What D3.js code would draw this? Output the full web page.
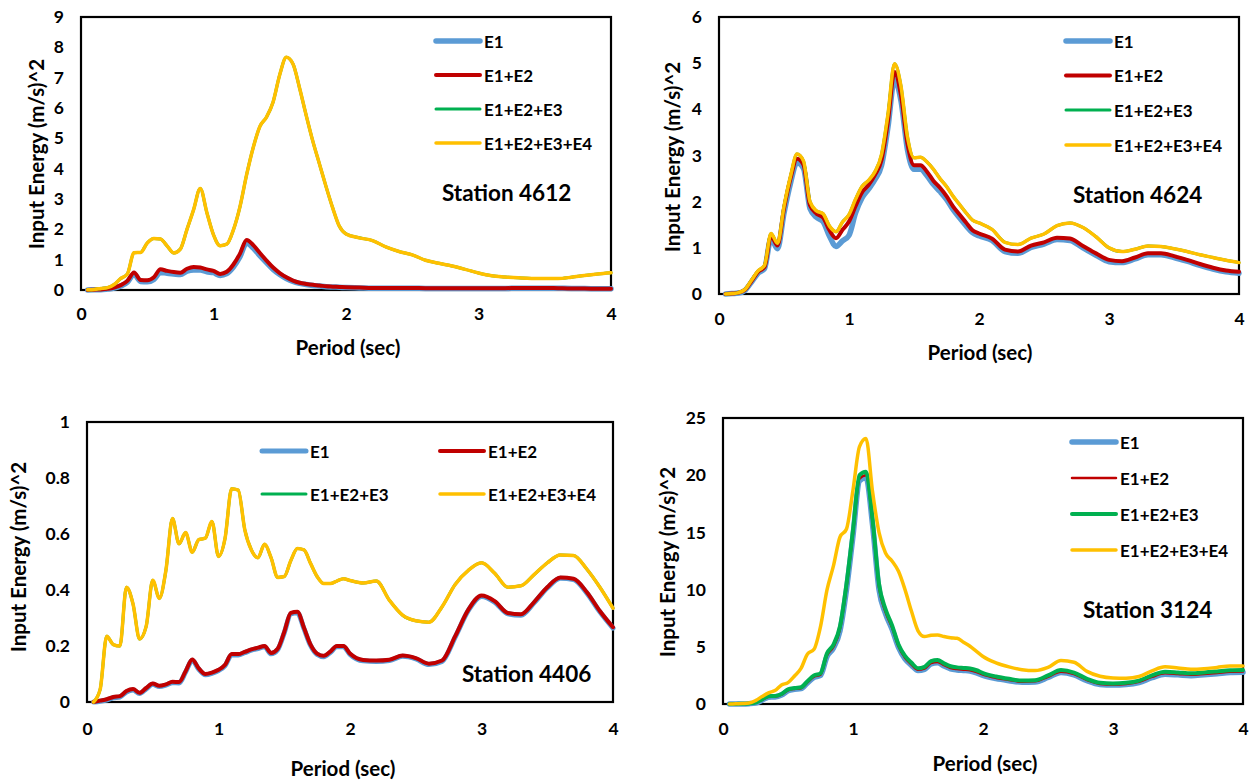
<!DOCTYPE html>
<meta charset="utf-8">
<html>
<head>
<title>Input Energy spectra</title>
<script src="https://cdn.jsdelivr.net/npm/d3@7"></script>
<style>
  body { margin: 0; background: #fff; }
  text { font-family: Lato, "Open Sans", sans-serif; font-weight: 700; fill: #000; }
</style>
</head>
<body>
<script>
// periods (sec): 0.05 steps up to 2 s, then 0.1 steps
const periods = [
  0.05,0.1,0.15,0.2,0.25,0.3,0.35,0.4,0.45,0.5,
  0.55,0.6,0.65,0.7,0.75,0.8,0.85,0.9,0.95,1.0,
  1.05,1.1,1.15,1.2,1.25,1.3,1.35,1.4,1.45,1.5,
  1.55,1.6,1.65,1.7,1.75,1.8,1.85,1.9,1.95,2.0,
  2.1,2.2,2.3,2.4,2.5,2.6,2.7,2.8,2.9,3.0,
  3.1,3.2,3.3,3.4,3.5,3.6,3.7,3.8,3.9,4.0]

const seriesNames = ["E1", "E1+E2", "E1+E2+E3", "E1+E2+E3+E4"]
const seriesColors = ["#5B9BD5", "#C00000", "#00B050", "#FFC000"]
const xTicks = [0, 1, 2, 3, 4]

// Station 4612
const st4612_e1 = [
  0.00,0.01,0.01,0.03,0.06,0.13,0.26,0.52,0.28,0.27,
  0.35,0.58,0.55,0.53,0.51,0.62,0.66,0.66,0.60,0.57,
  0.48,0.54,0.76,1.10,1.55,1.38,1.13,0.90,0.68,0.51,
  0.38,0.28,0.22,0.18,0.15,0.13,0.11,0.10,0.09,0.08,
  0.07,0.06,0.06,0.06,0.06,0.05,0.05,0.05,0.05,0.05,
  0.05,0.05,0.06,0.06,0.06,0.06,0.05,0.05,0.04,0.04]
const st4612_e12 = [
  0.00,0.01,0.02,0.04,0.08,0.16,0.30,0.58,0.33,0.32,
  0.42,0.68,0.63,0.59,0.57,0.70,0.76,0.74,0.68,0.63,
  0.53,0.60,0.84,1.20,1.65,1.48,1.22,0.97,0.74,0.56,
  0.42,0.31,0.24,0.20,0.17,0.15,0.12,0.11,0.10,0.09,
  0.08,0.07,0.07,0.07,0.07,0.06,0.06,0.06,0.06,0.06,
  0.06,0.06,0.07,0.07,0.07,0.06,0.05,0.05,0.04,0.04]
const st4612_e123 = [
  0.01,0.02,0.05,0.08,0.18,0.38,0.53,1.23,1.24,1.55,
  1.70,1.68,1.45,1.22,1.35,2.00,2.65,3.35,2.55,1.82,
  1.46,1.51,1.98,2.75,3.80,4.70,5.39,5.70,6.20,7.10,
  7.67,7.45,6.65,5.75,4.90,4.15,3.40,2.70,2.10,1.85,
  1.72,1.63,1.42,1.27,1.16,0.98,0.88,0.79,0.68,0.56,
  0.47,0.43,0.40,0.38,0.38,0.38,0.42,0.48,0.53,0.57]
const st4612_e1234 = [
  0.01,0.02,0.05,0.08,0.18,0.38,0.53,1.23,1.24,1.55,
  1.70,1.68,1.45,1.22,1.35,2.00,2.65,3.35,2.55,1.82,
  1.46,1.51,1.98,2.75,3.80,4.70,5.39,5.70,6.20,7.10,
  7.67,7.45,6.65,5.75,4.90,4.15,3.40,2.70,2.10,1.85,
  1.72,1.63,1.42,1.27,1.16,0.98,0.88,0.79,0.68,0.56,
  0.47,0.43,0.40,0.38,0.38,0.38,0.42,0.48,0.53,0.57]

// Station 4624
const st4624_e1 = [
  0.00,0.01,0.02,0.08,0.26,0.45,0.55,1.20,0.98,1.75,
  2.40,2.85,2.72,1.85,1.66,1.57,1.25,1.03,1.15,1.27,
  1.75,2.08,2.27,2.48,2.78,3.62,4.65,4.18,3.12,2.70,
  2.70,2.56,2.37,2.22,2.05,1.83,1.65,1.48,1.33,1.26,
  1.16,0.92,0.88,1.01,1.08,1.18,1.16,1.00,0.84,0.70,
  0.68,0.76,0.85,0.85,0.79,0.71,0.62,0.54,0.48,0.45]
const st4624_e12 = [
  0.00,0.01,0.03,0.09,0.28,0.48,0.58,1.26,1.05,1.85,
  2.50,2.93,2.80,1.92,1.74,1.66,1.38,1.21,1.39,1.57,
  1.90,2.20,2.36,2.58,2.90,3.75,4.81,4.30,3.25,2.79,
  2.79,2.65,2.45,2.30,2.12,1.90,1.72,1.55,1.38,1.31,
  1.20,0.96,0.92,1.05,1.12,1.22,1.20,1.04,0.88,0.74,
  0.71,0.79,0.88,0.88,0.82,0.74,0.65,0.57,0.51,0.48]
const st4624_e123 = [
  0.00,0.01,0.03,0.10,0.30,0.50,0.62,1.31,1.10,1.90,
  2.55,3.03,2.88,2.00,1.80,1.74,1.47,1.35,1.56,1.72,
  2.05,2.33,2.46,2.65,3.02,3.90,4.99,4.50,3.40,2.95,
  2.96,2.86,2.70,2.50,2.33,2.12,1.94,1.76,1.60,1.54,
  1.40,1.12,1.07,1.21,1.30,1.48,1.54,1.44,1.24,1.00,
  0.92,0.97,1.04,1.03,0.98,0.92,0.85,0.79,0.73,0.68]
const st4624_e1234 = [
  0.00,0.01,0.03,0.10,0.30,0.50,0.62,1.31,1.10,1.90,
  2.55,3.03,2.88,2.00,1.80,1.74,1.47,1.35,1.56,1.72,
  2.05,2.33,2.46,2.65,3.02,3.90,4.99,4.50,3.40,2.95,
  2.96,2.86,2.70,2.50,2.33,2.12,1.94,1.76,1.60,1.54,
  1.40,1.12,1.07,1.21,1.30,1.48,1.54,1.44,1.24,1.00,
  0.92,0.97,1.04,1.03,0.98,0.92,0.85,0.79,0.73,0.68]

// Station 4406
const st4406_e1 = [
  0.000,0.003,0.007,0.015,0.018,0.036,0.043,0.030,0.047,0.063,
  0.055,0.060,0.069,0.068,0.107,0.149,0.117,0.097,0.102,0.112,
  0.130,0.168,0.168,0.176,0.185,0.191,0.197,0.172,0.187,0.247,
  0.315,0.319,0.262,0.202,0.170,0.162,0.177,0.197,0.197,0.170,
  0.147,0.145,0.148,0.163,0.154,0.134,0.145,0.232,0.327,0.377,
  0.357,0.315,0.310,0.354,0.407,0.442,0.437,0.390,0.322,0.264]
const st4406_e12 = [
  0.000,0.005,0.010,0.018,0.021,0.039,0.046,0.033,0.050,0.066,
  0.058,0.063,0.072,0.071,0.110,0.152,0.120,0.100,0.105,0.115,
  0.133,0.171,0.171,0.179,0.188,0.194,0.200,0.175,0.190,0.250,
  0.318,0.322,0.265,0.205,0.173,0.165,0.180,0.200,0.200,0.173,
  0.150,0.148,0.151,0.166,0.157,0.137,0.148,0.235,0.330,0.380,
  0.360,0.318,0.313,0.357,0.410,0.445,0.440,0.393,0.325,0.267]
const st4406_e123 = [
  0.000,0.045,0.235,0.205,0.200,0.410,0.350,0.225,0.270,0.435,
  0.370,0.470,0.655,0.565,0.605,0.535,0.580,0.585,0.645,0.520,
  0.585,0.762,0.757,0.615,0.543,0.515,0.563,0.515,0.445,0.448,
  0.505,0.548,0.543,0.495,0.448,0.423,0.423,0.432,0.440,0.434,
  0.425,0.432,0.363,0.310,0.290,0.285,0.340,0.420,0.470,0.497,
  0.460,0.410,0.415,0.455,0.497,0.525,0.523,0.475,0.410,0.335]
const st4406_e1234 = [
  0.000,0.045,0.235,0.205,0.200,0.410,0.350,0.225,0.270,0.435,
  0.370,0.470,0.655,0.565,0.605,0.535,0.580,0.585,0.645,0.520,
  0.585,0.762,0.757,0.615,0.543,0.515,0.563,0.515,0.445,0.448,
  0.505,0.548,0.543,0.495,0.448,0.423,0.423,0.432,0.440,0.434,
  0.425,0.432,0.363,0.310,0.290,0.285,0.340,0.420,0.470,0.497,
  0.460,0.410,0.415,0.455,0.497,0.525,0.523,0.475,0.410,0.335]

// Station 3124
const st3124_e1 = [
  0.00,0.01,0.01,0.03,0.08,0.33,0.60,0.62,0.78,1.15,
  1.28,1.34,1.85,2.32,2.50,4.15,4.90,6.40,10.00,14.70,
  19.50,19.80,15.70,10.00,7.90,6.55,4.95,3.95,3.38,2.93,
  3.03,3.50,3.60,3.33,3.08,2.98,2.93,2.88,2.73,2.50,
  2.22,2.04,1.90,1.93,2.32,2.76,2.55,2.03,1.70,1.65,
  1.70,1.88,2.30,2.60,2.55,2.48,2.55,2.64,2.75,2.77]
const st3124_e12 = [
  0.00,0.01,0.02,0.04,0.10,0.36,0.63,0.65,0.82,1.20,
  1.32,1.38,1.90,2.38,2.56,4.25,5.00,6.55,10.20,14.90,
  19.70,20.00,15.90,10.20,8.05,6.70,5.05,4.05,3.45,3.00,
  3.10,3.58,3.68,3.40,3.15,3.05,3.00,2.95,2.80,2.57,
  2.28,2.10,1.95,1.98,2.38,2.83,2.62,2.09,1.75,1.70,
  1.75,1.94,2.37,2.68,2.62,2.55,2.62,2.71,2.82,2.84]
const st3124_e123 = [
  0.00,0.01,0.02,0.05,0.12,0.40,0.68,0.70,0.88,1.28,
  1.40,1.46,2.00,2.50,2.68,4.43,5.20,6.80,10.50,15.20,
  20.00,20.30,16.20,10.50,8.30,6.90,5.20,4.20,3.60,3.13,
  3.25,3.75,3.85,3.55,3.30,3.20,3.15,3.10,2.95,2.70,
  2.40,2.20,2.05,2.08,2.50,2.97,2.75,2.20,1.85,1.80,
  1.85,2.05,2.50,2.82,2.76,2.68,2.75,2.85,2.96,2.98]
const st3124_e1234 = [
  0.00,0.02,0.04,0.08,0.30,0.65,0.98,1.17,1.66,1.87,
  2.45,3.12,4.37,4.78,6.77,9.97,12.10,14.60,15.30,18.70,
  22.50,23.20,18.60,15.00,13.20,12.50,11.60,10.00,8.10,6.40,
  5.90,6.00,6.04,5.90,5.80,5.75,5.40,5.05,4.60,4.15,
  3.60,3.25,3.00,2.92,3.20,3.80,3.65,2.85,2.42,2.27,
  2.25,2.40,2.90,3.25,3.15,3.03,3.08,3.20,3.32,3.33]

const yTicks4612 = [0,1,2,3,4,5,6,7,8,9]
const yTicks4624 = [0,1,2,3,4,5,6]
const yTicks4406 = [0,0.2,0.4,0.6,0.8,1]
const yTicks3124 = [0,5,10,15,20,25]

// layout of the four panels (pixels)
var panels = [
  {station: "Station 4612", series: [st4612_e1, st4612_e12, st4612_e123, st4612_e1234], yTicks: yTicks4612,
   box: {l: 81, r: 611, t: 17, b: 290}, xPad: 19, xTitle: [348, 347], yTitle: [36, 154],
   legend: [[436, 41], [436, 75], [436, 109], [436, 143]], label: [442, 192],
   widths: [5.5, 4, 3, 3.5]},
  {station: "Station 4624", series: [st4624_e1, st4624_e12, st4624_e123, st4624_e1234], yTicks: yTicks4624,
   box: {l: 719, r: 1239, t: 17, b: 294}, xPad: 20, xTitle: [980, 352], yTitle: [672, 157],
   legend: [[1066, 41], [1066, 75.5], [1066, 110], [1066, 145]], label: [1073, 194],
   widths: [5.5, 4, 3, 3.5]},
  {station: "Station 4406", series: [st4406_e1, st4406_e12, st4406_e123, st4406_e1234], yTicks: yTicks4406,
   box: {l: 87, r: 613, t: 422, b: 702}, xPad: 22, xTitle: [343, 768], yTitle: [18, 557],
   legend: [[262, 451], [440, 451], [262, 494], [440, 494]], label: [462, 673],
   widths: [5, 4, 3, 3.5]},
  {station: "Station 3124", series: [st3124_e1, st3124_e12, st3124_e123, st3124_e1234], yTicks: yTicks3124,
   box: {l: 723, r: 1243, t: 418, b: 704}, xPad: 20, xTitle: [985, 763], yTitle: [667, 562],
   legend: [[1072, 442], [1072, 478], [1072, 514], [1072, 550]], label: [1083, 609],
   widths: [5.5, 2.5, 4, 3.5]}
]

var svg = d3.select("body").append("svg")
    .attr("width", 1250)
    .attr("height", 780)
    .style("background", "#fff")

panels.forEach(p => {
    var g = svg.append("g")
    var x = d3.scaleLinear().domain([0, 4]).range([p.box.l, p.box.r])
    var y = d3.scaleLinear().domain([0, d3.max(p.yTicks)]).range([p.box.b, p.box.t])

    // axes
    var xa = g.append("g")
        .attr("transform", "translate(0," + p.box.b + ")")
        .call(d3.axisBottom(x).tickValues(xTicks).tickSize(0).tickPadding(p.xPad - 1).tickFormat(d3.format("")))
    var ya = g.append("g")
        .attr("transform", "translate(" + p.box.l + ",0)")
        .call(d3.axisLeft(y).tickValues(p.yTicks).tickSize(0).tickPadding(17).tickFormat(d3.format("")))
    ;[xa, ya].forEach(a => {
        a.select(".domain").remove()
        a.selectAll("text").style("font-size", "17.5px").style("font-family", "Lato, sans-serif").attr("fill", "#000")
    })

    // frame
    g.append("rect")
        .attr("x", p.box.l).attr("y", p.box.t)
        .attr("width", p.box.r - p.box.l).attr("height", p.box.b - p.box.t)
        .attr("fill", "none").attr("stroke", "#000").attr("stroke-width", 2.2)

    // curves
    var line = d3.line()
        .curve(d3.curveMonotoneX)
        .x(d => x(d[0]))
        .y(d => y(d[1]))
    p.series.forEach((s, i) => {
        g.append("path")
            .datum(d3.zip(periods, s))
            .attr("d", line)
            .attr("fill", "none")
            .attr("stroke", seriesColors[i])
            .attr("stroke-width", p.widths[i])
            .attr("stroke-linejoin", "round")
            .attr("stroke-linecap", "round")
    })

    // legend
    seriesNames.forEach((name, i) => {
        var pos = p.legend[i]
        g.append("line")
            .attr("x1", pos[0]).attr("x2", pos[0] + 44)
            .attr("y1", pos[1]).attr("y2", pos[1])
            .attr("stroke", seriesColors[i])
            .attr("stroke-width", p.widths[i])
            .attr("stroke-linecap", "round")
        g.append("text")
            .attr("x", pos[0] + 48).attr("y", pos[1])
            .attr("dominant-baseline", "central")
            .style("font-size", "17px")
            .text(name)
    })

    g.append("text")
        .attr("x", p.label[0]).attr("y", p.label[1])
        .attr("dominant-baseline", "central")
        .style("font-size", "22.5px")
        .text(p.station)

    g.append("text")
        .attr("x", p.xTitle[0]).attr("y", p.xTitle[1])
        .attr("text-anchor", "middle")
        .attr("dominant-baseline", "central")
        .style("font-size", "20.5px")
        .text("Period (sec)")

    g.append("text")
        .attr("transform", "translate(" + p.yTitle[0] + "," + p.yTitle[1] + ") rotate(-90)")
        .attr("text-anchor", "middle")
        .attr("dominant-baseline", "central")
        .style("font-size", "20.5px")
        .text("Input Energy (m/s)^2")
})
</script>
</body>
</html>
